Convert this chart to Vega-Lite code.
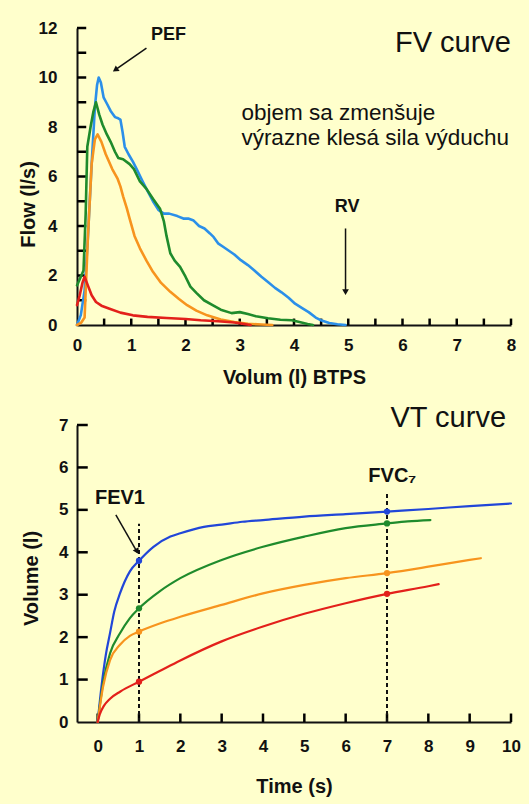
{
  "$schema": "https://vega.github.io/schema/vega-lite/v6.json",
  "background": "#FFFFCC",
  "padding": {"left": 18, "top": 19, "right": 8, "bottom": 8},
  "spacing": 100,
  "bounds": "flush",
  "resolve": {"scale": {"color": "independent"}},
  "config": {
    "font": "Liberation Sans",
    "view": {"stroke": null},
    "axis": {"labelFontWeight": "bold"}
  },
  "vconcat": [
    {
      "width": 434,
      "height": 297,
      "encoding": {
        "x": {"field": "x", "type": "quantitative", "scale": {"domain": [0, 8], "nice": false, "zero": false},
          "axis": {"values": [0,1,2,3,4,5,6,7,8], "format": "d", "ticks": false,
            "domainColor": "#111111", "domainWidth": 2, "grid": false,
            "labelFont": "Liberation Sans", "labelFontSize": 17, "labelFontWeight": "bold", "labelColor": "#111111",
            "labelFlush": false, "labelOverlap": false, "labelPadding": 12,
            "title": "Volum (l) BTPS", "titleFont": "Liberation Sans", "titleFontSize": 20, "titleFontWeight": "bold", "titleColor": "#111111",
            "titleY": 58, "titleBaseline": "alphabetic"}},
        "y": {"field": "y", "type": "quantitative", "scale": {"domain": [0, 12], "nice": false, "zero": false},
          "axis": {"values": [0,2,4,6,8,10,12], "format": "d", "ticks": false,
            "domainColor": "#111111", "domainWidth": 2, "grid": false,
            "labelFont": "Liberation Sans", "labelFontSize": 17, "labelFontWeight": "bold", "labelColor": "#111111",
            "labelFlush": false, "labelOverlap": false, "labelPadding": 20,
            "title": "Flow (l/s)", "titleFont": "Liberation Sans", "titleFontSize": 20, "titleFontWeight": "bold", "titleColor": "#111111",
            "titleX": -43, "titleY": 176, "titleBaseline": "alphabetic", "titleAlign": "center"}}
      },
      "layer": [
        {
          "data": {"values": [
            {"x":0.5,"y":0,"y2":0.26},{"x":1,"y":0,"y2":0.26},{"x":1.5,"y":0,"y2":0.26},{"x":2,"y":0,"y2":0.26},{"x":2.5,"y":0,"y2":0.26},{"x":3,"y":0,"y2":0.26},{"x":3.5,"y":0,"y2":0.26},{"x":4,"y":0,"y2":0.26},{"x":4.5,"y":0,"y2":0.26},{"x":5,"y":0,"y2":0.26},{"x":5.5,"y":0,"y2":0.26},{"x":6,"y":0,"y2":0.26},{"x":6.5,"y":0,"y2":0.26},{"x":7,"y":0,"y2":0.26},{"x":7.5,"y":0,"y2":0.26},{"x":8,"y":0,"y2":0.26}
          ]},
          "mark": {"type": "rule", "color": "#000000", "strokeWidth": 2.5},
          "encoding": {"y2": {"field": "y2"}}
        },
        {
          "data": {"values": [
            {"y":1,"x":0,"x2":0.17},{"y":2,"x":0,"x2":0.17},{"y":3,"x":0,"x2":0.17},{"y":4,"x":0,"x2":0.17},{"y":5,"x":0,"x2":0.17},{"y":6,"x":0,"x2":0.17},{"y":7,"x":0,"x2":0.17},{"y":8,"x":0,"x2":0.17},{"y":9,"x":0,"x2":0.17},{"y":10,"x":0,"x2":0.17},{"y":11,"x":0,"x2":0.17},{"y":12,"x":0,"x2":0.17}
          ]},
          "mark": {"type": "rule", "color": "#000000", "strokeWidth": 2.5},
          "encoding": {"x2": {"field": "x2"}}
        },
        {
          "data": {"values": [
            {"s":"FV1","i":0,"x":0,"y":0},{"s":"FV1","i":1,"x":0.07,"y":0.4},{"s":"FV1","i":2,"x":0.14,"y":1.4},{"s":"FV1","i":3,"x":0.2,"y":3.5},{"s":"FV1","i":4,"x":0.27,"y":6.5},{"s":"FV1","i":5,"x":0.33,"y":8.8},{"s":"FV1","i":6,"x":0.37,"y":9.7},{"s":"FV1","i":7,"x":0.4,"y":10},{"s":"FV1","i":8,"x":0.44,"y":9.8},{"s":"FV1","i":9,"x":0.49,"y":9.2},{"s":"FV1","i":10,"x":0.55,"y":8.95},{"s":"FV1","i":11,"x":0.62,"y":8.65},{"s":"FV1","i":12,"x":0.7,"y":8.4},{"s":"FV1","i":13,"x":0.76,"y":8.35},{"s":"FV1","i":14,"x":0.8,"y":8.3},{"s":"FV1","i":15,"x":0.84,"y":7.8},{"s":"FV1","i":16,"x":0.88,"y":7.2},{"s":"FV1","i":17,"x":0.95,"y":6.9},{"s":"FV1","i":18,"x":1.03,"y":6.6},{"s":"FV1","i":19,"x":1.1,"y":6.3},{"s":"FV1","i":20,"x":1.2,"y":5.85},{"s":"FV1","i":21,"x":1.28,"y":5.5},{"s":"FV1","i":22,"x":1.4,"y":5.0},{"s":"FV1","i":23,"x":1.5,"y":4.65},{"s":"FV1","i":24,"x":1.6,"y":4.5},{"s":"FV1","i":25,"x":1.7,"y":4.5},{"s":"FV1","i":26,"x":1.85,"y":4.4},{"s":"FV1","i":27,"x":1.96,"y":4.3},{"s":"FV1","i":28,"x":2.05,"y":4.3},{"s":"FV1","i":29,"x":2.15,"y":4.22},{"s":"FV1","i":30,"x":2.25,"y":4.0},{"s":"FV1","i":31,"x":2.35,"y":3.9},{"s":"FV1","i":32,"x":2.45,"y":3.7},{"s":"FV1","i":33,"x":2.52,"y":3.55},{"s":"FV1","i":34,"x":2.6,"y":3.3},{"s":"FV1","i":35,"x":2.7,"y":3.15},{"s":"FV1","i":36,"x":2.8,"y":3.0},{"s":"FV1","i":37,"x":2.9,"y":2.85},{"s":"FV1","i":38,"x":3.02,"y":2.62},{"s":"FV1","i":39,"x":3.15,"y":2.42},{"s":"FV1","i":40,"x":3.27,"y":2.2},{"s":"FV1","i":41,"x":3.4,"y":1.95},{"s":"FV1","i":42,"x":3.52,"y":1.74},{"s":"FV1","i":43,"x":3.65,"y":1.5},{"s":"FV1","i":44,"x":3.77,"y":1.32},{"s":"FV1","i":45,"x":3.9,"y":1.1},{"s":"FV1","i":46,"x":4.02,"y":0.86},{"s":"FV1","i":47,"x":4.15,"y":0.68},{"s":"FV1","i":48,"x":4.27,"y":0.52},{"s":"FV1","i":49,"x":4.4,"y":0.3},{"s":"FV1","i":50,"x":4.51,"y":0.18},{"s":"FV1","i":51,"x":4.65,"y":0.08},{"s":"FV1","i":52,"x":4.8,"y":0.03},{"s":"FV1","i":53,"x":4.95,"y":0},
            {"s":"FV2","i":0,"x":0,"y":1.6},{"s":"FV2","i":1,"x":0.06,"y":1.9},{"s":"FV2","i":2,"x":0.12,"y":2.2},{"s":"FV2","i":3,"x":0.16,"y":4.5},{"s":"FV2","i":4,"x":0.19,"y":7.2},{"s":"FV2","i":5,"x":0.25,"y":8.0},{"s":"FV2","i":6,"x":0.3,"y":8.6},{"s":"FV2","i":7,"x":0.35,"y":9.0},{"s":"FV2","i":8,"x":0.41,"y":8.5},{"s":"FV2","i":9,"x":0.47,"y":8.1},{"s":"FV2","i":10,"x":0.55,"y":7.7},{"s":"FV2","i":11,"x":0.62,"y":7.4},{"s":"FV2","i":12,"x":0.7,"y":7.0},{"s":"FV2","i":13,"x":0.76,"y":6.75},{"s":"FV2","i":14,"x":0.85,"y":6.7},{"s":"FV2","i":15,"x":0.97,"y":6.5},{"s":"FV2","i":16,"x":1.05,"y":6.3},{"s":"FV2","i":17,"x":1.16,"y":5.8},{"s":"FV2","i":18,"x":1.28,"y":5.5},{"s":"FV2","i":19,"x":1.4,"y":5.1},{"s":"FV2","i":20,"x":1.53,"y":4.7},{"s":"FV2","i":21,"x":1.6,"y":4.2},{"s":"FV2","i":22,"x":1.65,"y":3.6},{"s":"FV2","i":23,"x":1.72,"y":2.9},{"s":"FV2","i":24,"x":1.8,"y":2.6},{"s":"FV2","i":25,"x":1.9,"y":2.35},{"s":"FV2","i":26,"x":2.0,"y":1.95},{"s":"FV2","i":27,"x":2.09,"y":1.55},{"s":"FV2","i":28,"x":2.2,"y":1.3},{"s":"FV2","i":29,"x":2.34,"y":1.0},{"s":"FV2","i":30,"x":2.5,"y":0.8},{"s":"FV2","i":31,"x":2.65,"y":0.62},{"s":"FV2","i":32,"x":2.85,"y":0.48},{"s":"FV2","i":33,"x":3.0,"y":0.52},{"s":"FV2","i":34,"x":3.15,"y":0.44},{"s":"FV2","i":35,"x":3.3,"y":0.35},{"s":"FV2","i":36,"x":3.52,"y":0.27},{"s":"FV2","i":37,"x":3.75,"y":0.21},{"s":"FV2","i":38,"x":3.96,"y":0.19},{"s":"FV2","i":39,"x":4.1,"y":0.12},{"s":"FV2","i":40,"x":4.25,"y":0.04},{"s":"FV2","i":41,"x":4.35,"y":0},
            {"s":"FV3","i":0,"x":0,"y":0},{"s":"FV3","i":1,"x":0.08,"y":0.1},{"s":"FV3","i":2,"x":0.14,"y":0.3},{"s":"FV3","i":3,"x":0.2,"y":3.5},{"s":"FV3","i":4,"x":0.27,"y":6.5},{"s":"FV3","i":5,"x":0.33,"y":7.5},{"s":"FV3","i":6,"x":0.38,"y":7.7},{"s":"FV3","i":7,"x":0.45,"y":7.4},{"s":"FV3","i":8,"x":0.53,"y":6.9},{"s":"FV3","i":9,"x":0.65,"y":6.3},{"s":"FV3","i":10,"x":0.75,"y":5.9},{"s":"FV3","i":11,"x":0.8,"y":5.6},{"s":"FV3","i":12,"x":0.85,"y":5.2},{"s":"FV3","i":13,"x":0.92,"y":4.7},{"s":"FV3","i":14,"x":0.97,"y":4.3},{"s":"FV3","i":15,"x":1.06,"y":3.6},{"s":"FV3","i":16,"x":1.16,"y":3.1},{"s":"FV3","i":17,"x":1.28,"y":2.6},{"s":"FV3","i":18,"x":1.4,"y":2.15},{"s":"FV3","i":19,"x":1.55,"y":1.7},{"s":"FV3","i":20,"x":1.72,"y":1.34},{"s":"FV3","i":21,"x":1.88,"y":1.05},{"s":"FV3","i":22,"x":2.03,"y":0.8},{"s":"FV3","i":23,"x":2.2,"y":0.58},{"s":"FV3","i":24,"x":2.4,"y":0.39},{"s":"FV3","i":25,"x":2.65,"y":0.22},{"s":"FV3","i":26,"x":2.9,"y":0.12},{"s":"FV3","i":27,"x":3.15,"y":0.05},{"s":"FV3","i":28,"x":3.4,"y":0.02},{"s":"FV3","i":29,"x":3.6,"y":0},
            {"s":"FV4","i":0,"x":0,"y":0.8},{"s":"FV4","i":1,"x":0.05,"y":1.2},{"s":"FV4","i":2,"x":0.1,"y":1.7},{"s":"FV4","i":3,"x":0.14,"y":1.95},{"s":"FV4","i":4,"x":0.2,"y":1.6},{"s":"FV4","i":5,"x":0.27,"y":1.2},{"s":"FV4","i":6,"x":0.35,"y":0.93},{"s":"FV4","i":7,"x":0.45,"y":0.78},{"s":"FV4","i":8,"x":0.6,"y":0.66},{"s":"FV4","i":9,"x":0.8,"y":0.5},{"s":"FV4","i":10,"x":1.03,"y":0.39},{"s":"FV4","i":11,"x":1.3,"y":0.33},{"s":"FV4","i":12,"x":1.65,"y":0.28},{"s":"FV4","i":13,"x":2.0,"y":0.24},{"s":"FV4","i":14,"x":2.28,"y":0.19},{"s":"FV4","i":15,"x":2.6,"y":0.15},{"s":"FV4","i":16,"x":2.9,"y":0.1},{"s":"FV4","i":17,"x":3.05,"y":0.05},{"s":"FV4","i":18,"x":3.2,"y":0}
          ]},
          "mark": {"type": "line", "strokeWidth": 2.6, "strokeJoin": "round", "strokeCap": "round"},
          "encoding": {
            "color": {"field": "s", "type": "nominal", "legend": null,
              "scale": {"domain": ["FV1","FV2","FV3","FV4"], "range": ["#2b8fe9","#1f8b2c","#f7941e","#e3201b"]}},
            "order": {"field": "i", "type": "quantitative"}
          }
        },
        {
          "data": {"values": [
            {"x": 1.28, "y": 11.19, "x2": 0.69, "y2": 10.29},
            {"x": 4.95, "y": 3.9, "x2": 4.95, "y2": 1.3}
          ]},
          "mark": {"type": "rule", "color": "#111111", "strokeWidth": 1.5},
          "encoding": {"x2": {"field": "x2"}, "y2": {"field": "y2"}}
        },
        {
          "data": {"values": [{"x": 0.706, "y": 10.31}]},
          "mark": {"type": "point", "shape": "triangle-up", "angle": 235, "filled": true, "opacity": 1, "color": "#111111", "size": 45},
          "encoding": {}
        },
        {
          "data": {"values": [{"x": 4.95, "y": 1.33}]},
          "mark": {"type": "point", "shape": "triangle-up", "angle": 180, "filled": true, "opacity": 1, "color": "#111111", "size": 45},
          "encoding": {}
        },
        {
          "data": {"values": [{"x": 8, "y": 11.39, "t": "FV curve"}]},
          "mark": {"type": "text", "align": "right", "baseline": "middle", "fontSize": 29, "color": "#111111"},
          "encoding": {"text": {"field": "t"}}
        },
        {
          "data": {"values": [
            {"x": 3.03, "y": 8.55, "t": "objem sa zmenšuje"},
            {"x": 3.03, "y": 7.54, "t": "výrazne klesá sila výduchu"}
          ]},
          "mark": {"type": "text", "align": "left", "baseline": "middle", "fontSize": 22.5, "color": "#111111"},
          "encoding": {"text": {"field": "t"}}
        },
        {
          "data": {"values": [
            {"x": 1.685, "y": 11.73, "t": "PEF"},
            {"x": 4.98, "y": 4.78, "t": "RV"}
          ]},
          "mark": {"type": "text", "align": "center", "baseline": "middle", "fontSize": 18, "fontWeight": "bold", "color": "#111111"},
          "encoding": {"text": {"field": "t"}}
        }
      ]
    },
    {
      "width": 434,
      "height": 297,
      "encoding": {
        "x": {"field": "x", "type": "quantitative", "scale": {"domain": [-0.5, 10], "nice": false, "zero": false},
          "axis": {"values": [0,1,2,3,4,5,6,7,8,9,10], "format": "d", "ticks": false,
            "domainColor": "#111111", "domainWidth": 2, "grid": false,
            "labelFont": "Liberation Sans", "labelFontSize": 17, "labelFontWeight": "bold", "labelColor": "#111111",
            "labelFlush": false, "labelOverlap": false, "labelPadding": 16,
            "title": "Time (s)", "titleFont": "Liberation Sans", "titleFontSize": 20, "titleFontWeight": "bold", "titleColor": "#111111",
            "titleY": 70, "titleBaseline": "alphabetic"}},
        "y": {"field": "y", "type": "quantitative", "scale": {"domain": [0, 7], "nice": false, "zero": false},
          "axis": {"values": [0,1,2,3,4,5,6,7], "format": "d", "ticks": false,
            "domainColor": "#111111", "domainWidth": 2, "grid": false,
            "labelFont": "Liberation Sans", "labelFontSize": 17, "labelFontWeight": "bold", "labelColor": "#111111",
            "labelFlush": false, "labelOverlap": false, "labelPadding": 9,
            "title": "Volume (l)", "titleFont": "Liberation Sans", "titleFontSize": 20, "titleFontWeight": "bold", "titleColor": "#111111",
            "titleX": -40, "titleY": 153, "titleBaseline": "alphabetic", "titleAlign": "center"}}
      },
      "layer": [
        {
          "data": {"values": [
            {"x":0,"y":0,"y2":0.2},{"x":1,"y":0,"y2":0.2},{"x":2,"y":0,"y2":0.2},{"x":3,"y":0,"y2":0.2},{"x":4,"y":0,"y2":0.2},{"x":5,"y":0,"y2":0.2},{"x":6,"y":0,"y2":0.2},{"x":7,"y":0,"y2":0.2},{"x":8,"y":0,"y2":0.2},{"x":9,"y":0,"y2":0.2},{"x":10,"y":0,"y2":0.2}
          ]},
          "mark": {"type": "rule", "color": "#000000", "strokeWidth": 2.5},
          "encoding": {"y2": {"field": "y2"}}
        },
        {
          "data": {"values": [
            {"y":1,"x":-0.5,"x2":-0.24},{"y":2,"x":-0.5,"x2":-0.24},{"y":3,"x":-0.5,"x2":-0.24},{"y":4,"x":-0.5,"x2":-0.24},{"y":5,"x":-0.5,"x2":-0.24},{"y":6,"x":-0.5,"x2":-0.24},{"y":7,"x":-0.5,"x2":-0.24}
          ]},
          "mark": {"type": "rule", "color": "#000000", "strokeWidth": 2.5},
          "encoding": {"x2": {"field": "x2"}}
        },
        {
          "data": {"values": [
            {"x": 1, "y": 0, "y2": 4.67},
            {"x": 7, "y": 0, "y2": 5.41}
          ]},
          "mark": {"type": "rule", "color": "#111111", "strokeWidth": 2, "strokeDash": [4, 3]},
          "encoding": {"y2": {"field": "y2"}}
        },
        {
          "data": {"values": [
            {"s":"VT1","i":0,"x":0,"y":0},{"s":"VT1","i":1,"x":0.1,"y":0.9},{"s":"VT1","i":2,"x":0.2,"y":1.6},{"s":"VT1","i":3,"x":0.3,"y":2.1},{"s":"VT1","i":4,"x":0.4,"y":2.6},{"s":"VT1","i":5,"x":0.54,"y":3.03},{"s":"VT1","i":6,"x":0.78,"y":3.55},{"s":"VT1","i":7,"x":1,"y":3.8},{"s":"VT1","i":8,"x":1.35,"y":4.13},{"s":"VT1","i":9,"x":1.76,"y":4.37},{"s":"VT1","i":10,"x":2,"y":4.45},{"s":"VT1","i":11,"x":2.57,"y":4.6},{"s":"VT1","i":12,"x":3,"y":4.65},{"s":"VT1","i":13,"x":3.5,"y":4.72},{"s":"VT1","i":14,"x":4,"y":4.76},{"s":"VT1","i":15,"x":5,"y":4.84},{"s":"VT1","i":16,"x":6,"y":4.9},{"s":"VT1","i":17,"x":7,"y":4.96},{"s":"VT1","i":18,"x":8,"y":5.02},{"s":"VT1","i":19,"x":9,"y":5.09},{"s":"VT1","i":20,"x":10,"y":5.15},
            {"s":"VT2","i":0,"x":0,"y":0},{"s":"VT2","i":1,"x":0.13,"y":0.91},{"s":"VT2","i":2,"x":0.3,"y":1.62},{"s":"VT2","i":3,"x":0.54,"y":2.09},{"s":"VT2","i":4,"x":0.78,"y":2.45},{"s":"VT2","i":5,"x":1,"y":2.68},{"s":"VT2","i":6,"x":1.5,"y":3.08},{"s":"VT2","i":7,"x":2,"y":3.39},{"s":"VT2","i":8,"x":3,"y":3.82},{"s":"VT2","i":9,"x":4,"y":4.13},{"s":"VT2","i":10,"x":5,"y":4.37},{"s":"VT2","i":11,"x":6,"y":4.57},{"s":"VT2","i":12,"x":7,"y":4.68},{"s":"VT2","i":13,"x":7.5,"y":4.73},{"s":"VT2","i":14,"x":8.05,"y":4.76},
            {"s":"VT3","i":0,"x":0,"y":0},{"s":"VT3","i":1,"x":0.13,"y":0.83},{"s":"VT3","i":2,"x":0.3,"y":1.46},{"s":"VT3","i":3,"x":0.54,"y":1.82},{"s":"VT3","i":4,"x":0.78,"y":2.03},{"s":"VT3","i":5,"x":1,"y":2.13},{"s":"VT3","i":6,"x":1.5,"y":2.32},{"s":"VT3","i":7,"x":2,"y":2.48},{"s":"VT3","i":8,"x":3,"y":2.76},{"s":"VT3","i":9,"x":4,"y":3.03},{"s":"VT3","i":10,"x":5,"y":3.23},{"s":"VT3","i":11,"x":6,"y":3.39},{"s":"VT3","i":12,"x":7,"y":3.51},{"s":"VT3","i":13,"x":8,"y":3.66},{"s":"VT3","i":14,"x":9,"y":3.82},{"s":"VT3","i":15,"x":9.27,"y":3.86},
            {"s":"VT4","i":0,"x":0,"y":0},{"s":"VT4","i":1,"x":0.05,"y":0.18},{"s":"VT4","i":2,"x":0.15,"y":0.38},{"s":"VT4","i":3,"x":0.3,"y":0.55},{"s":"VT4","i":4,"x":0.55,"y":0.72},{"s":"VT4","i":5,"x":1,"y":0.95},{"s":"VT4","i":6,"x":1.5,"y":1.2},{"s":"VT4","i":7,"x":2,"y":1.45},{"s":"VT4","i":8,"x":3,"y":1.9},{"s":"VT4","i":9,"x":4,"y":2.25},{"s":"VT4","i":10,"x":5,"y":2.55},{"s":"VT4","i":11,"x":6,"y":2.8},{"s":"VT4","i":12,"x":7,"y":3.02},{"s":"VT4","i":13,"x":8,"y":3.2},{"s":"VT4","i":14,"x":8.25,"y":3.25}
          ]},
          "mark": {"type": "line", "strokeWidth": 2.2, "interpolate": "monotone", "strokeCap": "round"},
          "encoding": {
            "color": {"field": "s", "type": "nominal", "legend": null,
              "scale": {"domain": ["VT1","VT2","VT3","VT4"], "range": ["#2146d8","#1f8b2c","#f7941e","#e3201b"]}},
            "order": {"field": "i", "type": "quantitative"}
          }
        },
        {
          "data": {"values": [
            {"s":"VT1","x":1,"y":3.8},{"s":"VT1","x":7,"y":4.96},
            {"s":"VT2","x":1,"y":2.68},{"s":"VT2","x":7,"y":4.68},
            {"s":"VT3","x":1,"y":2.13},{"s":"VT3","x":7,"y":3.51},
            {"s":"VT4","x":1,"y":0.95},{"s":"VT4","x":7,"y":3.02}
          ]},
          "mark": {"type": "point", "filled": true, "opacity": 1, "size": 40},
          "encoding": {
            "color": {"field": "s", "type": "nominal", "legend": null,
              "scale": {"domain": ["VT1","VT2","VT3","VT4"], "range": ["#2146d8","#1f8b2c","#f7941e","#e3201b"]}}
          }
        },
        {
          "data": {"values": [{"x": 0.44, "y": 4.88, "x2": 0.96, "y2": 4.0}]},
          "mark": {"type": "rule", "color": "#111111", "strokeWidth": 1.5},
          "encoding": {"x2": {"field": "x2"}, "y2": {"field": "y2"}}
        },
        {
          "data": {"values": [{"x": 0.954, "y": 4.02}]},
          "mark": {"type": "point", "shape": "triangle-up", "angle": 150, "filled": true, "opacity": 1, "color": "#111111", "size": 45},
          "encoding": {}
        },
        {
          "data": {"values": [{"x": 9.88, "y": 7.17, "t": "VT curve"}]},
          "mark": {"type": "text", "align": "right", "baseline": "middle", "fontSize": 29, "color": "#111111"},
          "encoding": {"text": {"field": "t"}}
        },
        {
          "data": {"values": [
            {"x": 0.54, "y": 5.29, "t": "FEV1"},
            {"x": 7.13, "y": 5.8, "t": "FVC₇"}
          ]},
          "mark": {"type": "text", "align": "center", "baseline": "middle", "fontSize": 20, "fontWeight": "bold", "color": "#111111"},
          "encoding": {"text": {"field": "t"}}
        }
      ]
    }
  ]
}
